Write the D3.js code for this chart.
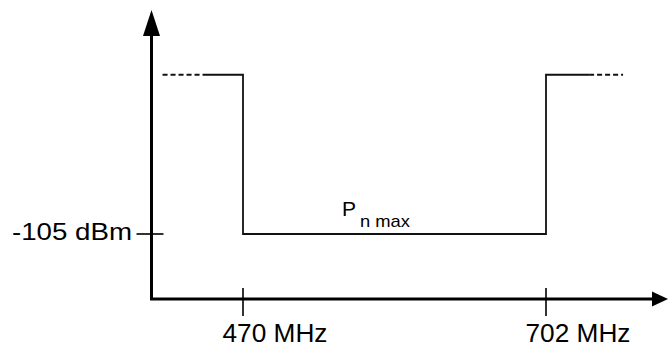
<!DOCTYPE html>
<html><head><meta charset="utf-8">
<script src="https://cdn.jsdelivr.net/npm/d3@7"></script>
<style>html,body{margin:0;padding:0;background:#fff;}svg{display:block;}</style>
</head><body>
<svg id="c" width="669" height="348"></svg>
<script>
// Data
const freqTicks = [470, 702];
const freqTickLabels = ["470 MHz", "702 MHz"];
const levelTicks = [-105];
const levelTickLabels = ["-105 dBm"];
const maskSolid = [[439.4, -56], [470, -56], [470, -105], [702, -105], [702, -56], [735, -56]];
const maskDashLeft = [[408.4, -56], [439.4, -56]];
const maskDashRight = [[735, -56], [761, -56]];
const bandLabel = {f: 586, level: -105, main: "P", sub: "n max"};

const svg = d3.select("#c");
const x = d3.scaleLinear().domain([470, 702]).range([243, 546]);
const y = d3.scaleLinear().domain([-125, -105]).range([299, 234]);
const fMin = x.invert(151.5), fMax = x.invert(668);
const lMin = -125, lMax = y.invert(10);
const font = "'Liberation Sans', Arial, sans-serif";

const line = d3.line().x(d => x(d[0])).y(d => y(d[1]));

// axes
svg.append("line").attr("x1", x(fMin) - 1.5).attr("x2", x(fMax) - 14).attr("y1", y(lMin)).attr("y2", y(lMin))
  .attr("stroke", "#000").attr("stroke-width", 3);
svg.append("line").attr("x1", x(fMin)).attr("x2", x(fMin)).attr("y1", y(lMin)).attr("y2", y(lMax) + 20)
  .attr("stroke", "#000").attr("stroke-width", 3);
// arrow heads
svg.append("path").attr("d", `M${x(fMax)},${y(lMin)} L${x(fMax)-16},${y(lMin)-7.5} L${x(fMax)-16},${y(lMin)+7.5} Z`).attr("fill", "#000");
svg.append("path").attr("d", `M${x(fMin)},${y(lMax)} L${x(fMin)-8.5},${y(lMax)+26} L${x(fMin)+8.5},${y(lMax)+26} Z`).attr("fill", "#000");

// x ticks
freqTicks.forEach((f, i) => {
  svg.append("line").attr("x1", x(f)).attr("x2", x(f)).attr("y1", y(lMin) - 11).attr("y2", y(lMin) + 17)
    .attr("stroke", "#000").attr("stroke-width", 1.6);
  svg.append("text").attr("x", x(f) + 32).attr("y", 342).attr("text-anchor", "middle")
    .attr("font-family", font).attr("font-size", 25)
    .attr("textLength", 105).attr("lengthAdjust", "spacingAndGlyphs")
    .text(freqTickLabels[i]);
});
// y ticks
levelTicks.forEach((l, i) => {
  svg.append("line").attr("x1", x(fMin) - 15).attr("x2", x(fMin) + 12).attr("y1", y(l)).attr("y2", y(l))
    .attr("stroke", "#000").attr("stroke-width", 1.6);
  svg.append("text").attr("x", 12).attr("y", y(l) + 6).attr("text-anchor", "start")
    .attr("font-family", font).attr("font-size", 24)
    .attr("textLength", 120).attr("lengthAdjust", "spacingAndGlyphs")
    .text(levelTickLabels[i]);
});

// mask
svg.append("path").attr("d", line(maskSolid)).attr("fill", "none").attr("stroke", "#111").attr("stroke-width", 1.8);
[maskDashLeft, maskDashRight].forEach(seg => {
  svg.append("path").attr("d", line(seg)).attr("fill", "none").attr("stroke", "#111")
    .attr("stroke-width", 1.8).attr("stroke-dasharray", "5,3");
});

// label
const t = svg.append("text").attr("x", 342).attr("y", y(bandLabel.level) - 18)
  .attr("font-family", font).attr("font-size", 21);
t.append("tspan").text(bandLabel.main);
t.append("tspan").attr("x", 360).attr("y", y(bandLabel.level) - 7).attr("font-size", 17)
  .attr("textLength", 50).attr("lengthAdjust", "spacingAndGlyphs").text(bandLabel.sub);
</script>
</body></html>
